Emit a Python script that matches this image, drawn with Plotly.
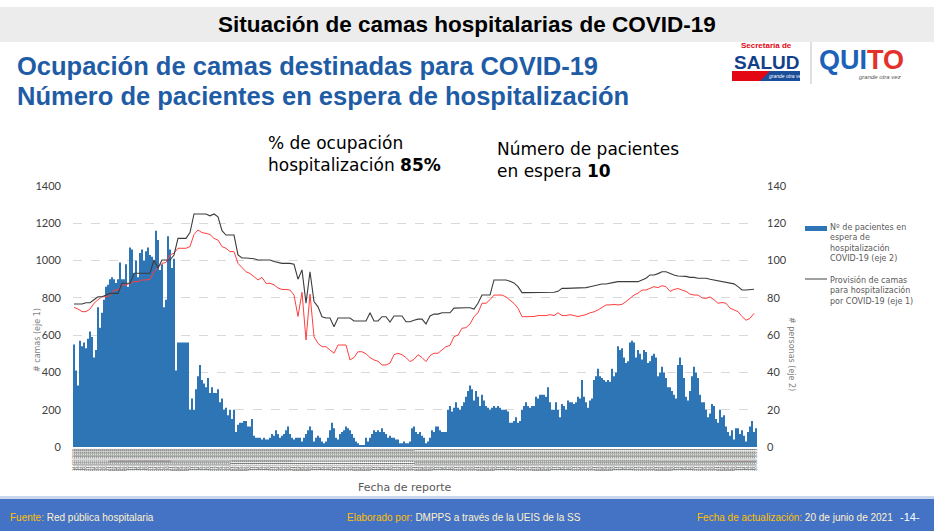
import pandas as pd
import plotly.graph_objects as go

# --- data (daily reports, 14/07/2020 - 20/06/2021) ---
START_DATE = "2020-07-14"
END_DATE = "2021-06-20"
report_dates = [d.strftime("%d/%m/%Y") for d in pd.date_range(START_DATE, END_DATE, freq="D")]

# patients waiting for a hospital bed (axis 2), one value per day
waiting_patients = [
    55, 41, 33, 57, 54, 56, 53, 58, 62, 59, 48, 52,
    75, 64, 72, 79, 86, 87, 90, 91, 90, 88, 90, 99, 90, 90, 98, 86, 107, 106,
    93, 100, 91, 104, 106, 100, 105, 107, 103, 102, 100, 116, 111, 95, 98, 75,
    79, 113, 106, 96, 101, 41, 56, 56, 56, 56, 56, 56,
    20, 26, 20, 31, 38, 44, 36, 34, 32, 37, 29, 32, 29, 29, 31, 24, 26, 20, 21,
    17, 20, 15, 20, 8, 12, 13, 13, 14, 14, 11, 11, 15, 6, 5, 5, 5, 4,
    5, 4, 4, 5,
    7, 6, 9, 7, 5, 6, 7, 9, 11, 7, 5, 4, 5, 5, 5, 3, 5, 7, 9, 11, 9, 3, 5, 6, 5,
    3, 2, 3, 5, 9, 13, 10, 5, 4, 7, 8, 9, 11, 10, 9, 7, 5, 3, 2, 1, 1, 1, 5, 3, 5,
    7, 9, 8, 9, 8, 10, 8, 7, 5, 6, 5, 5, 4, 4, 2, 2, 3, 2, 2, 3, 10, 11, 8, 7, 8,
    6, 5, 2, 3, 5, 9, 8, 11, 11, 9, 8, 8, 8, 20, 22, 19, 21, 24, 21, 20, 22, 24,
    27, 30, 33, 31, 25, 30, 27, 22, 28, 25, 22, 21, 20, 21, 22, 21, 22, 21,
    20, 20, 20, 19, 13, 13, 14, 16, 13, 14, 20, 22, 24, 22, 21, 22, 22, 27, 26,
    28, 28, 28, 27, 32, 24, 20, 20, 24, 20, 16,
    23, 22, 20, 25, 24, 24, 23, 24, 27, 26, 36, 27, 24, 21, 25, 26, 36, 38, 42,
    38, 37, 36, 35, 36, 35, 42, 38, 40, 54, 52, 53, 48, 45, 46, 56, 57, 56, 48,
    52, 50, 47, 52, 51, 45, 46, 49, 50, 48, 38, 40,
    43, 40, 37, 32, 32, 30, 28, 26, 44, 48, 44, 37, 27, 25, 30, 38, 43, 40, 37,
    28, 24, 24, 20, 16, 18, 23, 22, 15, 13, 20, 16, 17, 11, 8, 6, 9, 4, 10, 10,
    7, 9, 6, 3, 8, 11, 14, 8, 10,
]

# lines are read every second day (axis 1)
line_dates = report_dates[::2]

beds_provided = [
    767, 767, 767, 774, 774, 790, 806, 806, 815, 824, 824, 824, 878, 878, 878,
    932, 932, 932, 932, 932, 1003, 960, 1003, 1003, 1003, 1030, 1119, 1119, 1119,
    1150, 1250, 1250, 1250, 1250, 1240, 1250, 1235, 1160, 1137, 1137, 1137, 1030,
    1014, 1014, 1014, 1010, 1003, 1003, 1003, 1003, 995, 990, 985, 985, 985, 980,
    900, 950, 772, 940, 780, 752, 699, 692, 692, 645, 692, 692, 692, 692, 676,
    676, 676, 676, 720, 676, 676, 699, 699, 670, 703, 703, 703, 672, 672, 680,
    686, 686, 660, 703, 713, 713, 720, 720, 720, 745, 747, 747, 747, 747, 740,
    771, 815, 815, 815, 896, 896, 896, 896, 889, 880, 860,
    828, 828, 828, 826, 826, 826, 826, 826, 830, 835, 851, 851, 851, 851, 851,
    851, 855, 860, 866, 870, 874, 874, 880, 883, 887, 887, 887, 887, 887, 887,
    896, 905, 923, 923, 930, 940, 940, 930, 923, 917, 917, 915, 910, 910, 905,
    905, 905, 900, 896, 892, 890, 885, 878, 875, 860, 842, 842, 846, 846,
]

beds_occupied = [
    749, 740, 726, 726, 740, 771, 790, 806, 806, 812, 842, 842, 869, 869, 878,
    887, 887, 896, 896, 900, 940, 960, 985, 990, 1030, 1040, 1066, 1066, 1066,
    1075, 1140, 1164, 1150, 1146, 1140, 1119, 1110, 1075, 1066, 1048, 1048, 985,
    960, 940, 931, 915, 896, 910, 878, 878, 870, 853, 845, 845, 842, 815,
    700, 830, 574, 820, 592, 556, 538, 538, 520, 503, 547, 547, 547, 467, 480,
    511, 511, 500, 480, 467, 460, 440, 440, 450, 495, 503, 495, 480, 458, 470,
    495, 480, 458, 490, 503, 503, 520, 538, 545, 592, 600, 637, 640, 660, 699,
    720, 771, 771, 790, 815, 815, 815, 805, 789, 770, 744,
    699, 699, 699, 700, 705, 705, 705, 710, 705, 720, 705, 705, 710, 705, 700,
    705, 710, 720, 725, 735, 750, 762, 762, 765, 762, 765, 780, 800, 815, 825,
    842, 842, 850, 860, 855, 865, 860, 835, 845, 850, 842, 835, 820, 815, 815,
    800, 797, 805, 790, 771, 775, 771, 745, 735, 726, 700, 680, 690, 717,
]

BEDS_TICKS = [0, 200, 400, 600, 800, 1000, 1200, 1400]
PEOPLE_TICKS = [0, 20, 40, 60, 80, 100, 120, 140]

# --- page geometry (pixels) ---
W, H = 934, 531
L, R, T, B = 73, 757, 186, 447


def px(x):
    return (x - L) / (R - L)


def py(y):
    return (B - y) / (B - T)


BLUE_BAR = "#2e75b6"
GREY_TXT = "#595959"
NUM_FONT = "Lato, DejaVu Sans, sans-serif"
WIDE = "DejaVu Sans, Verdana, sans-serif"

fig = go.Figure()

fig.add_trace(go.Bar(
    x=report_dates, y=waiting_patients, yaxis="y",
    marker=dict(color=BLUE_BAR, line=dict(width=0)),
    name="Nº de pacientes en espera", showlegend=False,
))
fig.add_trace(go.Scatter(
    x=line_dates, y=beds_occupied, yaxis="y2", mode="lines",
    line=dict(color="#ff3f3f", width=1), showlegend=False,
))
fig.add_trace(go.Scatter(
    x=line_dates, y=beds_provided, yaxis="y2", mode="lines",
    line=dict(color="#3c3c3c", width=1.1), showlegend=False,
))

fig.update_layout(
    width=W, height=H,
    margin=dict(l=L, r=W - R, t=T, b=H - B),
    paper_bgcolor="white", plot_bgcolor="white",
    bargap=0.18,
    font=dict(family=NUM_FONT, color="#404040"),
    xaxis=dict(
        type="category", tickmode="array", tickvals=report_dates,
        ticktext=report_dates, tickangle=-90,
        tickfont=dict(size=4, color="#555555"),
        showgrid=False, zeroline=False, showline=False, ticks="",
    ),
    yaxis=dict(
        side="right", range=[0, 140], tickvals=PEOPLE_TICKS,
        showgrid=True, gridcolor="#d9d9d9", griddash="dash", gridwidth=1,
        zeroline=False, tickfont=dict(size=11, color="#404040"),
        ticklabelstandoff=9,
    ),
    yaxis2=dict(
        side="left", overlaying="y", range=[0, 1400], tickvals=BEDS_TICKS,
        showgrid=False, zeroline=False, tickfont=dict(size=11, color="#404040"),
        ticklabelstandoff=11,
    ),
)

shapes = [
    # header band
    dict(type="rect", xref="paper", yref="paper", x0=px(0), x1=px(W),
         y0=py(42), y1=py(7), fillcolor="#ececec", line=dict(width=0), layer="below"),
    # footer band
    dict(type="rect", xref="paper", yref="paper", x0=px(0), x1=px(W),
         y0=py(499), y1=py(496), fillcolor="#c9d6ee", line=dict(width=0)),
    dict(type="rect", xref="paper", yref="paper", x0=px(0), x1=px(W),
         y0=py(H), y1=py(499), fillcolor="#4472c4", line=dict(width=0)),
    # legend keys
    dict(type="rect", xref="paper", yref="paper", x0=px(805), x1=px(827),
         y0=py(231), y1=py(226), fillcolor=BLUE_BAR, line=dict(width=0)),
    dict(type="line", xref="paper", yref="paper", x0=px(805), x1=px(827),
         y0=py(279), y1=py(279), line=dict(color="#404040", width=1)),
    # logo pieces
    dict(type="rect", xref="paper", yref="paper", x0=px(732), x1=px(800),
         y0=py(81), y1=py(71), fillcolor="#1a4d9a", line=dict(width=0)),
    dict(type="path", xref="paper", yref="paper",
         path=f"M {px(732)},{py(71)} L {px(770)},{py(71)} L {px(760)},{py(81)} L {px(732)},{py(81)} Z",
         fillcolor="#e30613", line=dict(width=0)),
    dict(type="line", xref="paper", yref="paper", x0=px(811), x1=px(811),
         y0=py(84), y1=py(42), line=dict(color="#bfbfbf", width=1)),
]


def note(text, x, y, size, color="#000000", family=NUM_FONT, xanchor="left",
         yanchor="middle", angle=0, align="left"):
    return dict(text=text, x=px(x), y=py(y), xref="paper", yref="paper",
                showarrow=False, xanchor=xanchor, yanchor=yanchor,
                textangle=angle, align=align,
                font=dict(size=size, color=color, family=family))


SANS = "Liberation Sans, Arial, sans-serif"
NARROW = "Liberation Sans Narrow, Arial Narrow, Liberation Sans, sans-serif"

annotations = [
    note("<b>Situación de camas hospitalarias de COVID-19</b>", 467, 24, 22.5,
         family=SANS, xanchor="center"),
    note("<b>Ocupación de camas destinadas para COVID-19</b>", 15, 66, 25.5,
         color="#1f5ca6", family=SANS),
    note("<b>Número de pacientes en espera de hospitalización</b>", 15, 96, 25.5,
         color="#1f5ca6", family=SANS),
    # logos
    note("<b>Secretaría de</b>", 766, 45, 8, color="#e30613", family=NARROW,
         xanchor="center"),
    note("<b>SALUD</b>", 766, 62, 19, color="#143f8a", family=SANS,
         xanchor="center"),
    note("<i>grande otra vez</i>", 786, 76, 5, color="#ffffff", family=SANS,
         xanchor="center"),
    note("<b>QUI<span style='color:#e4322b'>TO</span></b>", 861, 60, 27,
         color="#1c62b9", family=SANS, xanchor="center"),
    note("<i>grande otra vez</i>", 880, 77, 6, color="#555555", family=SANS,
         xanchor="center"),
    # headline numbers
    note("% de ocupación<br>hospitalización <b>85%</b>", 266, 154, 17,
         family=WIDE),
    note("Número de pacientes<br>en espera <b>10</b>", 495, 160, 17,
         family=WIDE),
    # axis titles
    note("# camas (eje 1)", 37, 340, 8, color="#7f7f7f", family=WIDE,
         xanchor="center", angle=-90),
    note("# personas (eje 2)", 792, 354, 8, color="#7f7f7f", family=WIDE,
         xanchor="center", angle=90),
    note("Fecha de reporte", 405, 487, 11, color=GREY_TXT, family=WIDE,
         xanchor="center"),
    # legend texts
    note("Nº de pacientes en<br>espera de<br>hospitalización<br>COVID-19 (eje 2)",
         828, 243, 8, color=GREY_TXT, family=WIDE),
    note("Provisión de camas<br>para hospitalización<br>por COVID-19 (eje 1)",
         828, 290, 8, color=GREY_TXT, family=WIDE),
    # footer
    note("<span style='color:#ffc000'>Fuente:</span> Red pública hospitalaria",
         8, 517, 10, color="#fff2cc", family=NARROW),
    note("<span style='color:#ffc000'>Elaborado por:</span> DMPPS a través de la UEIS de la SS",
         464, 517, 10, color="#fff2cc", family=NARROW, xanchor="center"),
    note("<span style='color:#ffc000'>Fecha de actualización:</span> 20 de junio de 2021",
         695, 517, 10, color="#fff2cc", family=NARROW),
    note("-14-", 910, 517, 11, color="#ffffff", family=NARROW, xanchor="center"),
]

fig.update_layout(shapes=shapes, annotations=annotations)

# the page body has a default 8px margin; drop it so the figure sits at 0,0
fig.write_html("out.html", config={"displayModeBar": False},
               post_script="document.body.style.margin='0px';")
